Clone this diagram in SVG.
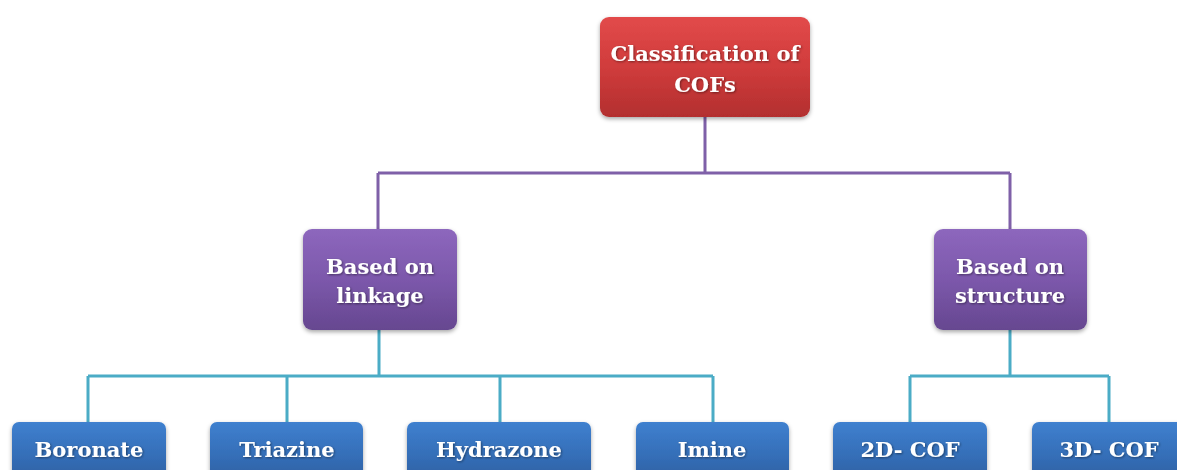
<svg xmlns="http://www.w3.org/2000/svg" width="1177" height="470" viewBox="0 0 1177 470">
<defs>
<linearGradient id="gRed" x1="0" y1="0" x2="0" y2="1"><stop offset="0" stop-color="#e24a4a"/><stop offset="0.5" stop-color="#d03c3c"/><stop offset="1" stop-color="#b32f2f"/></linearGradient>
<linearGradient id="gPur" x1="0" y1="0" x2="0" y2="1"><stop offset="0" stop-color="#8d67bd"/><stop offset="0.5" stop-color="#7c58ab"/><stop offset="1" stop-color="#664790"/></linearGradient>
<linearGradient id="gBlue" x1="0" y1="0" x2="0" y2="1"><stop offset="0" stop-color="#3f80cf"/><stop offset="0.6" stop-color="#346db6"/><stop offset="1" stop-color="#2c5e9f"/></linearGradient>
<filter id="sh" x="-10%" y="-10%" width="120%" height="130%"><feDropShadow dx="0" dy="2" stdDeviation="2" flood-color="#000" flood-opacity="0.35"/></filter>
<filter id="tsh" x="-5%" y="-20%" width="110%" height="140%"><feDropShadow dx="1" dy="1" stdDeviation="0.8" flood-color="#000" flood-opacity="0.45"/></filter>
</defs>
<style>
.t{font-family:"DejaVu Serif","Liberation Serif",serif;font-weight:bold;font-size:21px;fill:#fff;text-anchor:middle;filter:url(#tsh)}
.lp{fill:none;stroke:#7f60a8;stroke-width:3}
.lc{fill:none;stroke:#4bacc6;stroke-width:3}
</style>
<g id="connectors">
<path class="lp" d="M705 117V173M378 173H1010M378 173V229M1010 173V229"/>
<path class="lc" d="M379 330V376M88 376H713M88 376V422M287 376V422M500 376V422M713 376V422"/>
<path class="lc" d="M1010 330V376M910 376H1109M910 376V422M1109 376V422"/>
</g>
<g id="root"><rect x="600" y="17" width="210" height="100" rx="9" fill="url(#gRed)" filter="url(#sh)"/><text class="t" x="705" y="61">Classification of</text><text class="t" x="705" y="92">COFs</text></g>
<g id="linkage"><rect x="303" y="229" width="154" height="101" rx="9" fill="url(#gPur)" filter="url(#sh)"/><text class="t" x="380" y="274">Based on</text><text class="t" x="380" y="303">linkage</text></g>
<g id="structure"><rect x="934" y="229" width="153" height="101" rx="9" fill="url(#gPur)" filter="url(#sh)"/><text class="t" x="1010" y="274">Based on</text><text class="t" x="1010" y="303">structure</text></g>
<g id="boronate"><rect x="12" y="422" width="154" height="60" rx="7" fill="url(#gBlue)" filter="url(#sh)"/><text class="t" x="89" y="457">Boronate</text></g>
<g id="triazine"><rect x="210" y="422" width="153" height="60" rx="7" fill="url(#gBlue)" filter="url(#sh)"/><text class="t" x="287" y="457">Triazine</text></g>
<g id="hydrazone"><rect x="407" y="422" width="184" height="60" rx="7" fill="url(#gBlue)" filter="url(#sh)"/><text class="t" x="499" y="457">Hydrazone</text></g>
<g id="imine"><rect x="636" y="422" width="153" height="60" rx="7" fill="url(#gBlue)" filter="url(#sh)"/><text class="t" x="712" y="457">Imine</text></g>
<g id="cof2d"><rect x="833" y="422" width="154" height="60" rx="7" fill="url(#gBlue)" filter="url(#sh)"/><text class="t" x="910" y="457">2D- COF</text></g>
<g id="cof3d"><rect x="1032" y="422" width="154" height="60" rx="7" fill="url(#gBlue)" filter="url(#sh)"/><text class="t" x="1109" y="457">3D- COF</text></g>
</svg>
